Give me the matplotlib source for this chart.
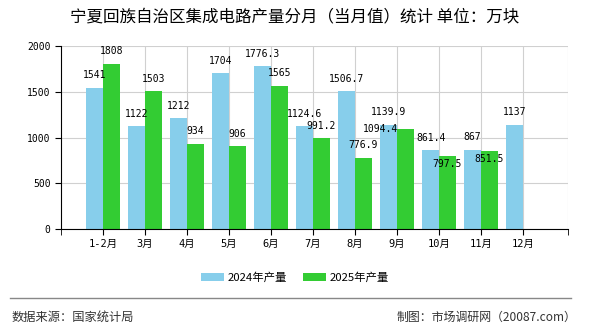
import matplotlib
matplotlib.use("Agg")
import matplotlib.pyplot as plt
import numpy as np

plt.rcParams['font.family'] = ['Noto Sans CJK SC', 'DejaVu Sans']

categories = ["1-2月", "3月", "4月", "5月", "6月", "7月", "8月", "9月", "10月", "11月", "12月"]
s2024 = [1541, 1122, 1212, 1704, 1776.3, 1124.6, 1506.7, 1139.9, 861.4, 867, 1137]
s2025 = [1808, 1503, 934, 906, 1565, 991.2, 776.9, 1094.4, 797.5, 851.5, None]
labels2024 = ["1541", "1122", "1212", "1704", "1776.3", "1124.6", "1506.7", "1139.9", "861.4", "867", "1137"]
labels2025 = ["1808", "1503", "934", "906", "1565", "991.2", "776.9", "1094.4", "797.5", "851.5", ""]
yticks = [0, 500, 1000, 1500, 2000]

# label offsets in pixels (dx, dy of label centre from bar top centre)
off2024 = [(0, 12.5)] * 11
off2025 = [(0, 12.5)] * 7 + [(-25, 0), (0, -8), (0, -8)]

c1 = "#87CEEB"
c2 = "#33CC33"
PX = 72 / 100.0
mono = ['DejaVu Sans Mono', 'Noto Sans CJK SC']

fig = plt.figure(figsize=(5.9, 3.3), dpi=100)
ax = fig.add_axes([61/590, 1-229/330, (568-61)/590, (229-46)/330])

x = np.arange(1, len(categories) + 1)
w = 0.4
ax.bar(x - w/2, s2024, width=w, color=c1, label="2024年产量", zorder=2)
x2 = [xi for xi, v in zip(x, s2025) if v is not None]
v2 = [v for v in s2025 if v is not None]
ax.bar(np.array(x2) + w/2, v2, width=w, color=c2, label="2025年产量", zorder=2)

for xi, v, t, (dx, dy) in zip(x, s2024, labels2024, off2024):
    ax.annotate(t, (xi - w/2, v), xytext=(dx*PX, dy*PX), textcoords='offset points',
                ha='center', va='center', fontsize=7, family=mono, zorder=3)
for xi, v, t, (dx, dy) in zip(x2, v2, labels2025, off2025):
    ax.annotate(t, (xi + w/2, v), xytext=(dx*PX, dy*PX), textcoords='offset points',
                ha='center', va='center', fontsize=7, family=mono, zorder=3)

ax.set_xlim(0, 12.07)
ax.set_ylim(0, 2000)
ax.set_yticks(yticks)
ax.set_yticklabels([str(t) for t in yticks], fontsize=7, family=mono)
ax.set_xticks(x)
ax.set_xticklabels(categories, fontsize=7.5, family=mono)
ax.set_xticks([0, 12.07], minor=True)
ax.tick_params(axis='x', which='both', length=4, color='black')
ax.tick_params(axis='y', length=4, color='black')
ax.grid(True, which='major', color='#D0D0D0', linewidth=0.8, zorder=0)
ax.axvline(12.07, color='#D0D0D0', linewidth=0.8, zorder=0)
ax.spines['top'].set_visible(False)
ax.spines['right'].set_visible(False)
ax.spines['left'].set_color('black')
ax.spines['bottom'].set_color('black')

fig.text(0.5, 1-17/330, "宁夏回族自治区集成电路产量分月（当月值）统计 单位：万块",
         ha='center', va='center', fontsize=11.9)

fig.legend(loc='center', bbox_to_anchor=(0.5, 1-277.5/330), ncol=2, frameon=False,
           fontsize=8.2, handlelength=2.0, handleheight=0.8, columnspacing=1.4, handletextpad=0.35)

fig.add_artist(plt.Line2D([10/590, 571/590], [1-298/330, 1-298/330], color='#888888', linewidth=1))
fig.text(12/590, 1-317/330, "数据来源：国家统计局", ha='left', va='center', fontsize=8.8, color='#333333')
fig.text(576/590, 1-317/330, "制图：市场调研网（20087.com）", ha='right', va='center', fontsize=8.6, color='#333333')

fig.savefig("out.png", dpi=100)
